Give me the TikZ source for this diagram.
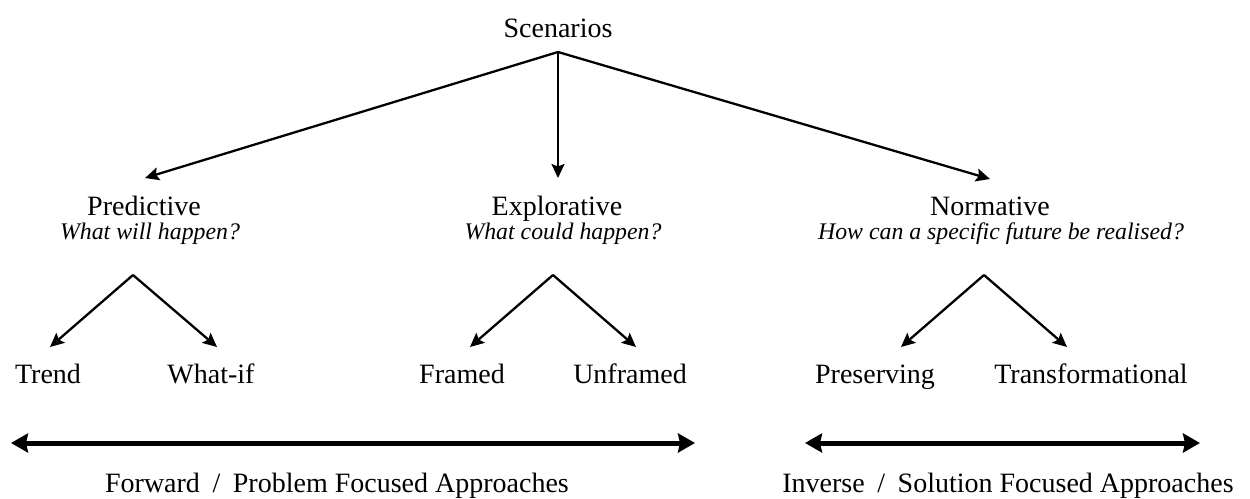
\documentclass[tikz,border=0pt]{standalone}
\usepackage{fontspec}
\setmainfont{Liberation Serif}
\usetikzlibrary{arrows.meta}
\begin{document}
\begin{tikzpicture}[x=1pt,y=-1pt,
  lbl/.style={font=\fontsize{28}{32}\selectfont, inner sep=0pt, anchor=base},
  qst/.style={font=\fontsize{23.8}{27}\selectfont\itshape, inner sep=0pt, anchor=base},
  arr/.style={line width=2.3pt, -{Stealth[length=14pt,width=13pt,inset=2.5pt]}},
  bigarr/.style={line width=5pt, {Stealth[length=17pt,width=19pt,inset=2pt]}-{Stealth[length=17pt,width=19pt,inset=2pt]}}]
\useasboundingbox (0,0) rectangle (1250,498);
% top
\node[lbl] (scen) at (558,37) {Scenarios};
\coordinate (o) at (558,52);
\node[lbl] (pred) at (144,215) {Predictive};
\node[qst] (predq) at (150,239) {What will happen?};
\node[lbl] (expl) at (557,215) {Explorative};
\node[qst] (explq) at (563,239) {What could happen?};
\node[lbl] (norm) at (990,215) {Normative};
\node[qst] (normq) at (1001,239) {How can a specific future be realised?};
\coordinate (tp) at (145,178);
\coordinate (te) at (558,178);
\coordinate (tn) at (990,179);
\draw[arr] (o) -- (tp);
\draw[arr] (o) -- (te);
\draw[arr] (o) -- (tn);
% sub-trees
\coordinate (ap) at (133,275);
\coordinate (ae) at (553,275);
\coordinate (an) at (984,275);
\node[lbl] (trend) at (48,383) {Trend};
\node[lbl] (whatif) at (211,383) {What-if};
\node[lbl] (framed) at (462,383) {Framed};
\node[lbl] (unframed) at (630,383) {Unframed};
\node[lbl] (pres) at (875,383) {Preserving};
\node[lbl] (trans) at (1091,383) {Transformational};
\coordinate (t1) at (50,347);
\coordinate (t2) at (217,347);
\coordinate (t3) at (470,347);
\coordinate (t4) at (636,347);
\coordinate (t5) at (901,347);
\coordinate (t6) at (1067,347);
\draw[arr] (ap) -- (t1);
\draw[arr] (ap) -- (t2);
\draw[arr] (ae) -- (t3);
\draw[arr] (ae) -- (t4);
\draw[arr] (an) -- (t5);
\draw[arr] (an) -- (t6);
% bottom
\coordinate (fl) at (11,443);
\coordinate (fr) at (695,443);
\coordinate (il) at (805,443);
\coordinate (ir) at (1200,443);
\draw[bigarr] (fl) -- (fr);
\draw[bigarr] (il) -- (ir);
\node[lbl] (fwd) at (337,492) {Forward\hspace{0.45em}/\hspace{0.45em}Problem Focused Approaches};
\node[lbl] (inv) at (1008,492) {Inverse\hspace{0.45em}/\hspace{0.45em}Solution Focused Approaches};
\end{tikzpicture}
\end{document}
